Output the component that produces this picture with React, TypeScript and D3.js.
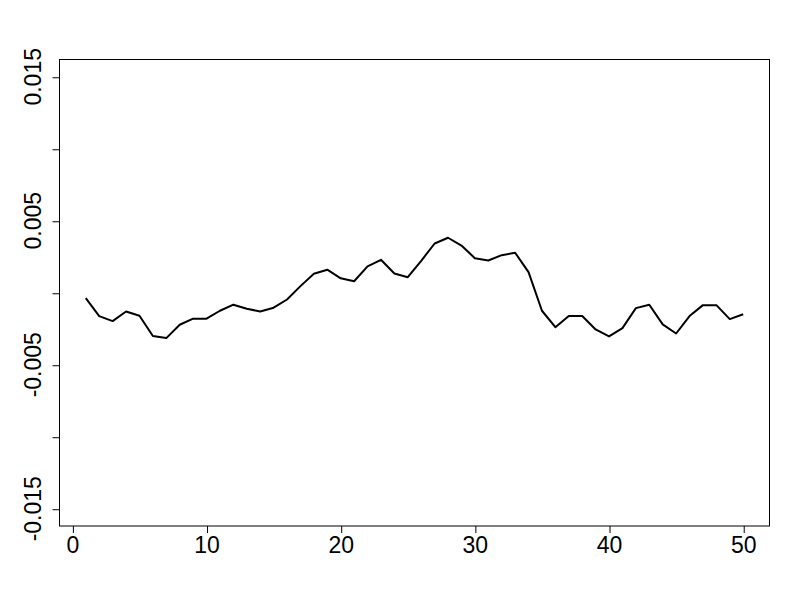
import * as d3 from "d3";
import React, { useEffect, useRef } from "react";

// series values, index 1..50
const values = [
  -0.00037, -0.00162, -0.00197, -0.0013, -0.0016, -0.003, -0.00315, -0.00222, -0.0018, -0.0018,
  -0.00125, -0.00083, -0.00111, -0.0013, -0.00104, -0.00047, 0.00046, 0.00132, 0.0016, 0.001,
  0.0008, 0.00183, 0.00229, 0.00134, 0.00108, 0.00222, 0.00342, 0.00382, 0.00328, 0.0024,
  0.00224, 0.00261, 0.00278, 0.00143, -0.00125, -0.00239, -0.00162, -0.00162, -0.00255, -0.00303,
  -0.00246, -0.00107, -0.00083, -0.0022, -0.00283, -0.00162, -0.00086, -0.00086, -0.00183, -0.00149,
];
const xTicks = [0, 10, 20, 30, 40, 50];
const yTicks = [-0.015, -0.01, -0.005, 0, 0.005, 0.01, 0.015];
const yLabelled = [-0.015, -0.005, 0.005, 0.015];

export default function App() {
  const ref = useRef<SVGSVGElement>(null);

  useEffect(() => {
    const svg = d3.select(ref.current);
    svg.selectAll("*").remove();

    const left = 59.5, right = 769.5, top = 59.5, bottom = 526;
    const x = d3.scaleLinear().domain([-0.96, 51.96]).range([left, right]);
    const y = d3.scaleLinear().domain([-0.0162, 0.0162]).range([bottom, top]);
    const font = "'Liberation Sans', Arial, sans-serif";

    // box
    svg.append("rect")
      .attr("x", left).attr("y", top)
      .attr("width", right - left).attr("height", bottom - top)
      .attr("fill", "none").attr("stroke", "#000").attr("stroke-width", 1);

    // x axis
    const gx = svg.append("g")
      .attr("transform", `translate(0,${bottom})`)
      .call(d3.axisBottom(x).tickValues(xTicks).tickSize(7).tickPadding(4).tickFormat((d) => String(d)));
    gx.select(".domain").remove();
    gx.selectAll("text").attr("font-family", font).attr("font-size", 23).attr("fill", "#000");
    gx.selectAll("line").attr("stroke", "#000").attr("transform", "translate(0.5,0)");

    // y axis
    const gy = svg.append("g")
      .attr("transform", `translate(${left},0)`)
      .call(d3.axisLeft(y).tickValues(yTicks).tickSize(7).tickFormat(() => ""));
    gy.select(".domain").remove();
    gy.selectAll("line").attr("stroke", "#000").attr("transform", "translate(0,0.5)");

    svg.append("g").selectAll("text")
      .data(yLabelled)
      .enter()
      .append("text")
      .attr("transform", (d) => `translate(41,${y(d)}) rotate(-90)`)
      .attr("text-anchor", "middle")
      .attr("font-family", font)
      .attr("font-size", 23)
      .attr("fill", "#000")
      .text((d) => String(d));

    // series
    const line = d3.line<number>()
      .x((d, i) => x(i + 1))
      .y((d) => y(d));
    svg.append("path")
      .datum(values)
      .attr("d", line)
      .attr("fill", "none")
      .attr("stroke", "#000")
      .attr("stroke-width", 2)
      .attr("stroke-linejoin", "round");
  }, []);

  return (
    <svg
      ref={ref}
      width={800}
      height={600}
      style={{ position: "absolute", left: 0, top: 0, background: "#fff" }}
    />
  );
}
